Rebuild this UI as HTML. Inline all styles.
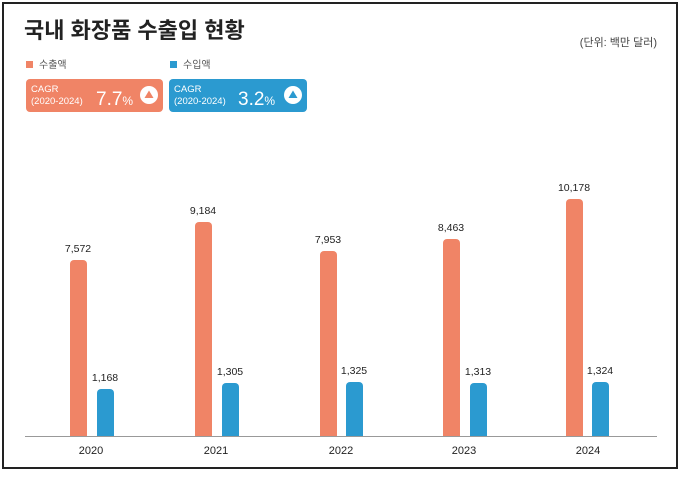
<!DOCTYPE html>
<html><head><meta charset="utf-8"><style>
body{margin:0;width:680px;height:472px;background:#fff;font-family:"Liberation Sans","Noto Sans CJK KR",sans-serif;}
</style></head><body>
<svg width="680" height="472" xmlns="http://www.w3.org/2000/svg" font-family="Liberation Sans, Noto Sans CJK KR, sans-serif">
<rect x="3" y="3" width="674" height="465" fill="#fff" stroke="#222" stroke-width="2"/>
<text x="24" y="38" font-size="22" font-weight="bold" fill="#222">국내 화장품 수출입 현황</text>
<text x="657" y="46" font-size="11" fill="#444" text-anchor="end">(단위: 백만 달러)</text>
<rect x="26" y="61" width="7" height="7" fill="#f08466"/>
<text x="39" y="68" font-size="10" fill="#555">수출액</text>
<rect x="170" y="61" width="7" height="7" fill="#2b9ad0"/>
<text x="183" y="68" font-size="10" fill="#555">수입액</text>
<rect x="26" y="79" width="137" height="33" rx="4" fill="#f08466"/>
<text x="31" y="92" font-size="9.5" fill="#fff">CAGR</text>
<text x="31" y="104" font-size="9.5" fill="#fff">(2020-2024)</text>
<text x="96" y="105" font-size="19" fill="#fff">7.7<tspan font-size="12">%</tspan></text>
<circle cx="149" cy="95" r="9" fill="#fff"/><polygon points="149,90.5 153.5,98 144.5,98" fill="#f08466"/>
<rect x="169" y="79" width="138" height="33" rx="4" fill="#2b9ad0"/>
<text x="174" y="92" font-size="9.5" fill="#fff">CAGR</text>
<text x="174" y="104" font-size="9.5" fill="#fff">(2020-2024)</text>
<text x="238" y="105" font-size="19" fill="#fff">3.2<tspan font-size="12">%</tspan></text>
<circle cx="293" cy="95" r="9" fill="#fff"/><polygon points="293,90.5 297.5,98 288.5,98" fill="#2b9ad0"/>
<g font-size="10.5" fill="#222" text-anchor="middle">
<rect x="70" y="260" width="17" height="180" rx="4" fill="#f08466"/>
<rect x="97" y="389" width="17" height="51" rx="4" fill="#2b9ad0"/>
<text x="78" y="252">7,572</text><text x="105" y="381">1,168</text><text x="91" y="454" font-size="11">2020</text>
<rect x="195" y="222" width="17" height="218" rx="4" fill="#f08466"/>
<rect x="222" y="383" width="17" height="57" rx="4" fill="#2b9ad0"/>
<text x="203" y="214">9,184</text><text x="230" y="375">1,305</text><text x="216" y="454" font-size="11">2021</text>
<rect x="320" y="251" width="17" height="189" rx="4" fill="#f08466"/>
<rect x="346" y="382" width="17" height="58" rx="4" fill="#2b9ad0"/>
<text x="328" y="243">7,953</text><text x="354" y="374">1,325</text><text x="341" y="454" font-size="11">2022</text>
<rect x="443" y="239" width="17" height="201" rx="4" fill="#f08466"/>
<rect x="470" y="383" width="17" height="57" rx="4" fill="#2b9ad0"/>
<text x="451" y="231">8,463</text><text x="478" y="375">1,313</text><text x="464" y="454" font-size="11">2023</text>
<rect x="566" y="199" width="17" height="241" rx="4" fill="#f08466"/>
<rect x="592" y="382" width="17" height="58" rx="4" fill="#2b9ad0"/>
<text x="574" y="191">10,178</text><text x="600" y="374">1,324</text><text x="588" y="454" font-size="11">2024</text>
</g>
<line x1="25" y1="436.5" x2="657" y2="436.5" stroke="#999" stroke-width="1"/>
<rect x="25" y="437" width="632" height="4" fill="#fff"/>
</svg>
</body></html>
